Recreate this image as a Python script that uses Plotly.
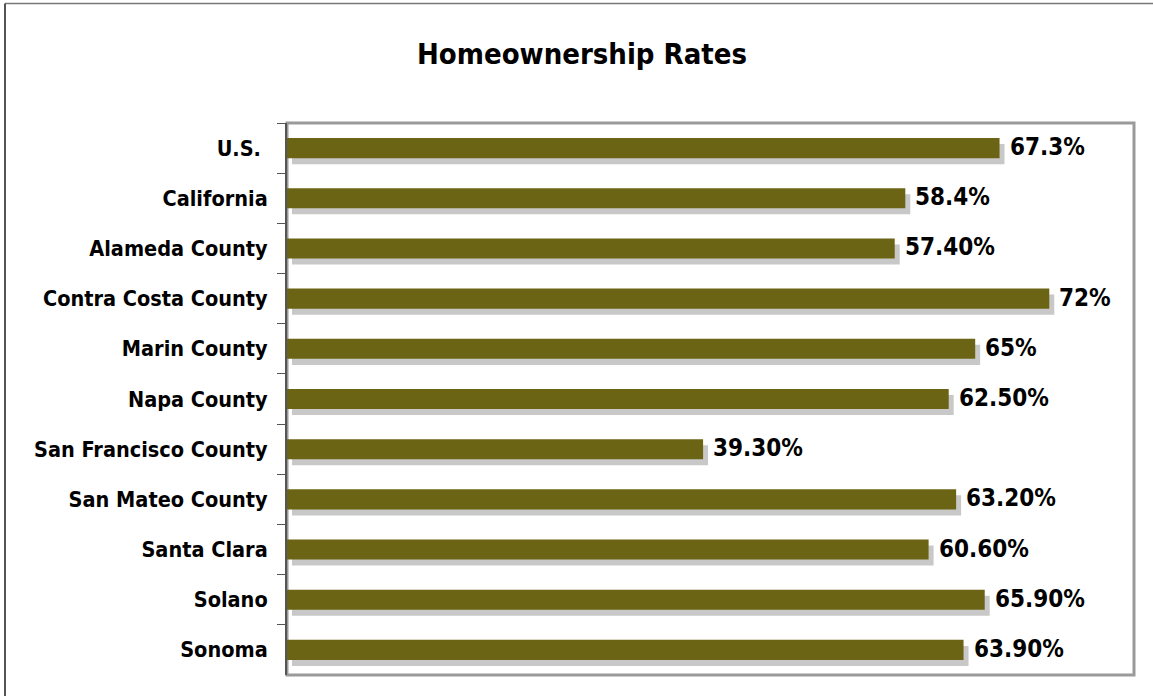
import plotly.graph_objects as go

categories = ["U.S. ", "California", "Alameda County", "Contra Costa County", "Marin County",
              "Napa County", "San Francisco County", "San Mateo County", "Santa Clara",
              "Solano", "Sonoma"]
values = [67.3, 58.4, 57.4, 72, 65, 62.5, 39.3, 63.2, 60.6, 65.9, 63.9]
labels = ["67.3%", "58.4%", "57.40%", "72%", "65%", "62.50%", "39.30%", "63.20%",
          "60.60%", "65.90%", "63.90%"]

FONT = "Liberation Sans Narrow, DejaVu Sans Condensed, Arial Narrow, sans-serif"
BAR = "#6b6414"
SHADOW = "#c8c8c8"

W, H = 1153, 696
ML, MR, MT, MB = 287, 19, 123, 21
PW, PH = W - ML - MR, H - MT - MB

fig = go.Figure()
fig.add_trace(go.Bar(y=categories, x=values, base=0.47, orientation="h",
                     offset=-0.08, width=0.4, marker=dict(color=SHADOW, line=dict(width=0)),
                     hoverinfo="skip", showlegend=False))
fig.add_trace(go.Bar(y=categories, x=values, orientation="h",
                     offset=-0.2, width=0.4, marker=dict(color=BAR, line=dict(width=0)),
                     showlegend=False))

for c, v, t in zip(categories, values, labels):
    fig.add_annotation(x=v, y=c, text="<b>" + t + "</b>", showarrow=False,
                       xanchor="left", yanchor="middle", xshift=8, yshift=1,
                       font=dict(family=FONT, size=24, color="#000"))

# plot border (top/right/bottom gray)
fig.add_shape(type="rect", xref="x domain", yref="y domain", x0=0, x1=1, y0=0, y1=1,
              line=dict(color="#9a9a9a", width=3), layer="below")
# outer page border (top and left)
fig.add_shape(type="line", xref="paper", yref="paper",
              x0=(5 - ML) / PW, x1=(W + 5 - ML) / PW, y0=(H - MB - 3.5) / PH, y1=(H - MB - 3.5) / PH,
              line=dict(color="#777", width=1.5))
fig.add_shape(type="line", xref="paper", yref="paper",
              x0=(5 - ML) / PW, x1=(5 - ML) / PW, y0=(H - MB - 3.5) / PH, y1=-1,
              line=dict(color="#555", width=2))

fig.update_layout(
    width=W, height=H,
    margin=dict(l=ML, r=MR, t=MT, b=MB, autoexpand=False),
    paper_bgcolor="white", plot_bgcolor="white",
    barmode="overlay",
    title=dict(text="<b>Homeownership Rates</b>", x=582 / W, xref="container", xanchor="center",
               y=1 - 54 / H, yanchor="middle",
               font=dict(family=FONT, size=29, color="#000")),
    xaxis=dict(range=[0, 80], visible=False, fixedrange=True),
    yaxis=dict(type="category", categoryorder="array", categoryarray=categories,
               range=[10.5, -0.5], showline=True, linecolor="#555", linewidth=2,
               ticks="outside", tickson="boundaries", ticklen=8, tickcolor="#555",
               tickwidth=1, ticklabelstandoff=13, showgrid=False, automargin=False,
               tickfont=dict(family=FONT, size=21.5, color="#000"), fixedrange=True),
)
fig.update_yaxes(tickprefix="<b>", ticksuffix="</b>")
fig.write_html("out.html", config={"displayModeBar": False},
               post_script="document.body.style.margin='0';document.body.style.overflow='hidden';")
